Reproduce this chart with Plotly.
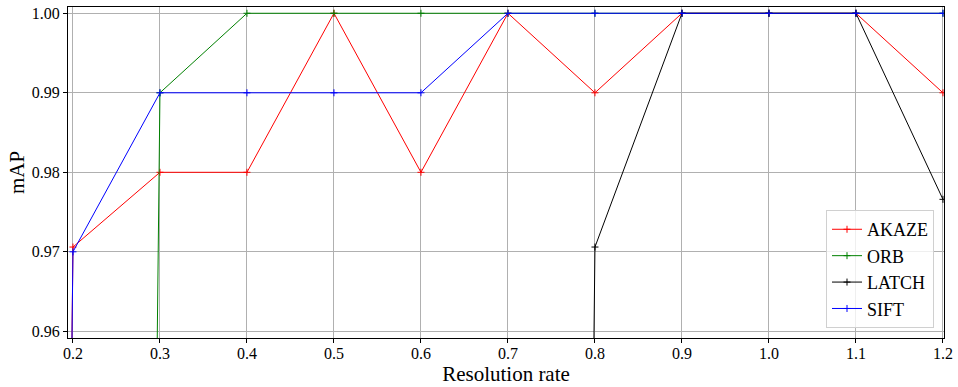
import plotly.graph_objects as go

x_vals = [0.1, 0.2, 0.3, 0.4, 0.5, 0.6, 0.7, 0.8, 0.9, 1.0, 1.1, 1.2]
akaze = [0.0, 0.9706, 0.98, 0.98, 1.0, 0.98, 1.0, 0.99, 1.0, 1.0, 1.0, 0.99]
orb = [0.0, 0.0, 0.99, 1.0, 1.0, 1.0, 1.0, 1.0, 1.0, 1.0, 1.0, 1.0]
latch = [0.0, 0.0, 0.0, 0.0, 0.0, 0.0, 0.0, 0.9706, 1.0, 1.0, 1.0, 0.9766]
sift = [0.0, 0.97, 0.99, 0.99, 0.99, 0.99, 1.0, 1.0, 1.0, 1.0, 1.0, 1.0]
x_ticks = [0.2, 0.3, 0.4, 0.5, 0.6, 0.7, 0.8, 0.9, 1.0, 1.1, 1.2]
x_labels = ["0.2", "0.3", "0.4", "0.5", "0.6", "0.7", "0.8", "0.9", "1.0", "1.1", "1.2"]
y_ticks = [0.96, 0.97, 0.98, 0.99, 1.0]
y_labels = ["0.96", "0.97", "0.98", "0.99", "1.00"]

series = [("AKAZE", akaze, "#ff0000"), ("ORB", orb, "#008000"),
          ("LATCH", latch, "#000000"), ("SIFT", sift, "#0000ff")]

FONT = "Liberation Serif"
fig = go.Figure()
for name, vals, col in series:
    fig.add_trace(go.Scatter(
        x=x_vals, y=vals, name=name, mode="lines+markers",
        line=dict(color=col, width=1),
        marker=dict(symbol="cross-thin", size=5, color=col,
                    line=dict(color=col, width=1)),
    ))

axis_common = dict(showline=True, linecolor="black", linewidth=1.2, mirror=True,
                   showgrid=True, gridcolor="#b0b0b0", gridwidth=1,
                   ticks="outside", ticklen=4, tickcolor="black", zeroline=False,
                   tickfont=dict(family=FONT, size=16, color="black"))

fig.update_layout(
    width=958, height=387,
    margin=dict(l=68, r=11, t=5, b=49),
    paper_bgcolor="white", plot_bgcolor="white",
    font=dict(family=FONT, color="black"),
    showlegend=True,
    legend=dict(x=0.9886, y=0.03, xanchor="right", yanchor="bottom",
                bgcolor="rgba(255,255,255,0.8)", bordercolor="#d0d0d0", borderwidth=1,
                font=dict(family=FONT, size=18, color="black"),
                tracegroupgap=0, itemwidth=30),
    xaxis=dict(range=[0.1943, 1.2012], tickvals=x_ticks, ticktext=x_labels,
               ticklabelstandoff=-3,
               title=dict(text="Resolution rate", font=dict(family=FONT, size=21, color="black"), standoff=2),
               **axis_common),
    yaxis=dict(range=[0.95916, 1.00079], tickvals=y_ticks, ticktext=y_labels,
               title=dict(text="mAP", font=dict(family=FONT, size=21, color="black"), standoff=1),
               **axis_common),
)

fig.write_html("out.html")
